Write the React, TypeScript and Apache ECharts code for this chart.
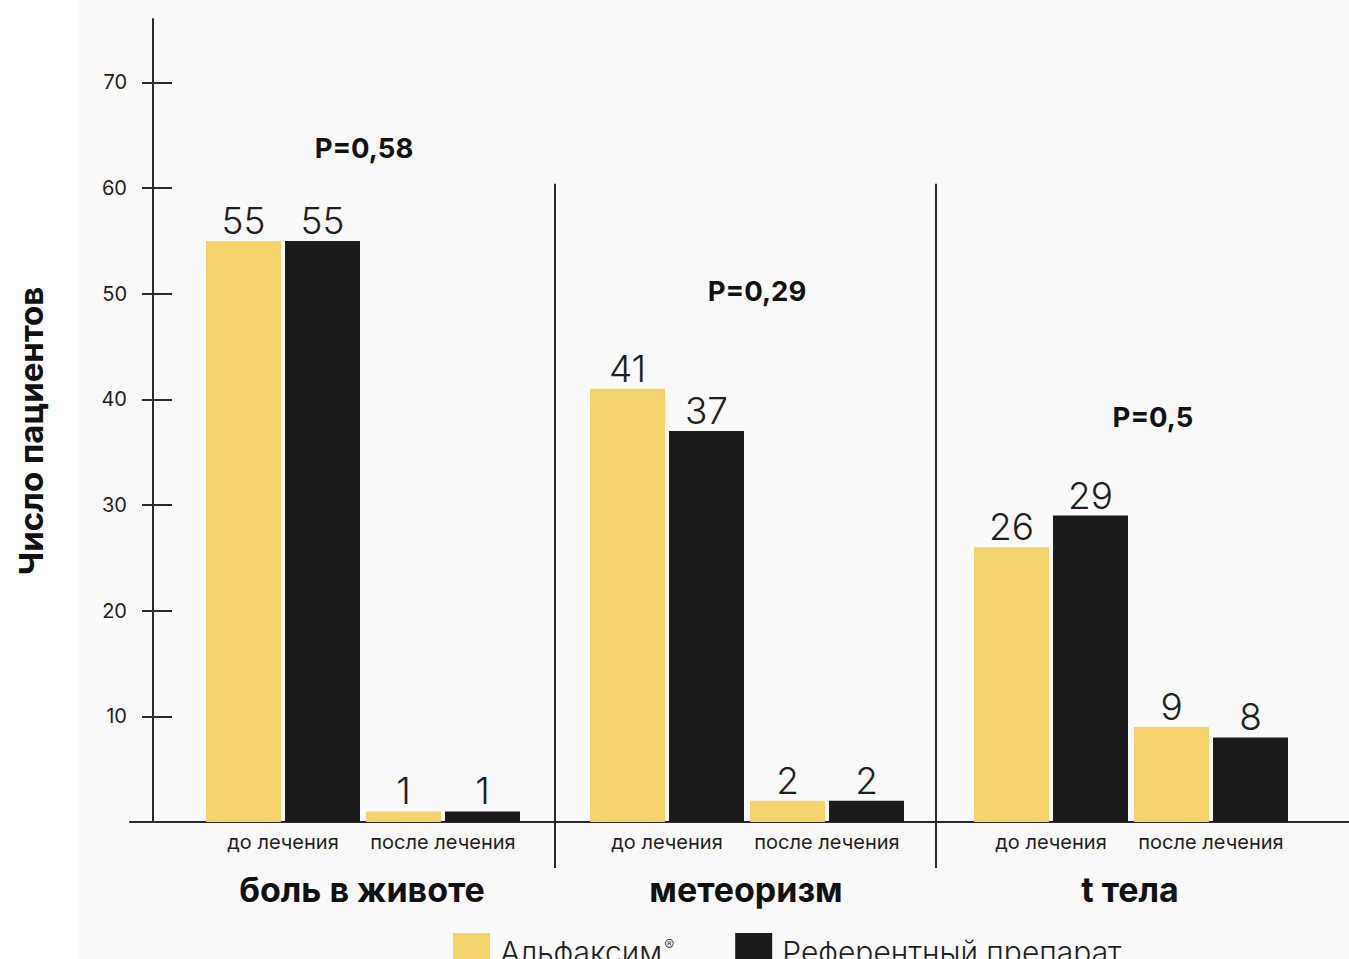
import React, { useEffect, useRef } from 'react';
import * as echarts from 'echarts';

// ---------- data ----------
const groups = ['боль в животе', 'метеоризм', 't тела'];
const phases = ['до лечения', 'после лечения'];
const seriesNames = ['Альфаксим®', 'Референтный препарат'];
// order: [group0 до, group0 после, group1 до, group1 после, group2 до, group2 после]
const alfaxim = [55, 1, 41, 2, 26, 9];
const referent = [55, 1, 37, 2, 29, 8];
const pValues = ['P=0,58', 'P=0,29', 'P=0,5'];
const yTicks = [10, 20, 30, 40, 50, 60, 70];
const yTitle = 'Число пациентов';

// ---------- layout ----------
const FONT = 'Inter, "Noto Sans", sans-serif';
const X0 = 243.5;
const GROUP_PITCH = 384;
const PHASE_PITCH = 160;
const BAR_PITCH = 79;
const pAnchor = [[364, 63.8], [757, 50.3], [1153, 38.3]];
const separatorsAt = [555, 936];
const YELLOW = '#f4d36a';
const BLACK = '#1b1a1c';
const INK = '#1e1e1e';

const barX = (i: number, k: number) =>
  X0 + Math.floor(i / 2) * GROUP_PITCH + (i % 2) * PHASE_PITCH + k * BAR_PITCH;

export default function App() {
  const ref = useRef<HTMLDivElement>(null);
  useEffect(() => {
    if (!ref.current) return;
    const chart = echarts.init(ref.current, null, { renderer: 'svg' });
    const mkBar = (name: string, vals: number[], k: number, color: string) => ({
      type: 'bar',
      name,
      barWidth: 75,
      barGap: '-100%',
      data: vals.map((v, i) => [barX(i, k), v]),
      itemStyle: { color },
      label: {
        show: true,
        position: 'top',
        distance: 2,
        fontSize: 37,
        fontWeight: 300,
        color: INK,
        fontFamily: FONT,
        formatter: (p: any) => String(p.value[1]),
      },
      z: 3,
    });
    chart.setOption({
      animation: false,
      backgroundColor: '#fafafa',
      grid: { left: 130, right: 0, top: 19, bottom: 137 },
      xAxis: {
        type: 'value',
        min: 130,
        max: 1349,
        axisLine: { show: true, onZero: false, lineStyle: { color: '#2a2a2a', width: 2 } },
        axisTick: { show: false },
        axisLabel: { show: false },
        splitLine: { show: false },
      },
      yAxis: [
        {
          type: 'value',
          min: 0,
          max: 76,
          interval: 10,
          position: 'left',
          offset: -23,
          axisLine: { show: true, lineStyle: { color: '#2a2a2a', width: 2 } },
          axisTick: { show: true, length: 11, customValues: yTicks, lineStyle: { color: '#2a2a2a', width: 2 } },
          axisLabel: {
            show: true,
            customValues: yTicks,
            margin: 26,
            fontSize: 20,
            color: INK,
            fontFamily: FONT,
          },
          splitLine: { show: false },
        },
        {
          type: 'value',
          min: 0,
          max: 76,
          interval: 10,
          position: 'left',
          offset: -23,
          axisLine: { show: false },
          axisTick: { show: true, inside: true, length: 19, customValues: yTicks, lineStyle: { color: '#2a2a2a', width: 2 } },
          axisLabel: { show: false },
          splitLine: { show: false },
        },
      ],
      legend: {
        left: 453,
        top: 933,
        padding: 0,
        itemWidth: 37,
        itemHeight: 37,
        itemGap: 61,
        icon: 'rect',
        data: seriesNames,
        formatter: (n: string) =>
          n.endsWith('®') ? `{a|${n.slice(0, -1)}}{s|®}` : `{a|${n}}`,
        textStyle: {
          color: INK,
          fontFamily: FONT,
          fontSize: 30,
          fontWeight: 300,
          padding: [0, 0, 0, 5],
          rich: {
            a: { fontSize: 30, fontWeight: 300, color: INK, fontFamily: FONT },
            s: { fontSize: 15, fontWeight: 300, color: INK, fontFamily: FONT, verticalAlign: 'top', padding: [0, 0, 14, 2] },
          },
        },
      },
      series: [mkBar(seriesNames[0], alfaxim, 0, YELLOW), mkBar(seriesNames[1], referent, 1, BLACK)],
    });

    const px = (x: number) => chart.convertToPixel({ xAxisIndex: 0 } as any, x) as number;
    const py = (y: number) => chart.convertToPixel({ yAxisIndex: 0 } as any, y) as number;
    const baseY = py(0);
    const g: any[] = [
      { type: 'rect', shape: { x: 0, y: 0, width: 77, height: 959 }, style: { fill: '#ffffff' }, silent: true, z: -1 },
      {
        type: 'text',
        x: 31,
        y: 431,
        rotation: Math.PI / 2,
        style: { text: yTitle, align: 'center', verticalAlign: 'middle', fontSize: 33, fontWeight: 'bold', fill: '#111', fontFamily: FONT },
      },
    ];
    separatorsAt.forEach((sx) => {
      g.push({
        type: 'line',
        shape: { x1: px(sx), y1: py(60.4), x2: px(sx), y2: baseY + 46 },
        style: { stroke: '#2a2a2a', lineWidth: 2 },
      });
    });
    for (let i = 0; i < 6; i++) {
      const cx = (px(barX(i, 0)) + px(barX(i, 1))) / 2;
      g.push({
        type: 'text',
        x: cx,
        y: baseY + 20,
        style: { text: phases[i % 2], align: 'center', verticalAlign: 'middle', fontSize: 20, fill: INK, fontFamily: FONT },
      });
    }
    groups.forEach((name, gi) => {
      const cx = (px(barX(gi * 2, 0)) + px(barX(gi * 2 + 1, 1))) / 2;
      g.push({
        type: 'text',
        x: cx - 1,
        y: baseY + 67,
        style: { text: name, align: 'center', verticalAlign: 'middle', fontSize: 34, fontWeight: 'bold', fill: '#111', fontFamily: FONT },
      });
    });
    pValues.forEach((t, gi) => {
      g.push({
        type: 'text',
        x: px(pAnchor[gi][0]),
        y: py(pAnchor[gi][1]),
        style: { text: t, align: 'center', verticalAlign: 'middle', fontSize: 27.5, fontWeight: 'bold', fill: '#111', fontFamily: FONT },
      });
    });
    chart.setOption({ graphic: g });
    return () => chart.dispose();
  }, []);
  return (
    <div
      ref={ref}
      style={{ position: 'fixed', left: 0, top: 0, width: 1349, height: 959 }}
    />
  );
}
